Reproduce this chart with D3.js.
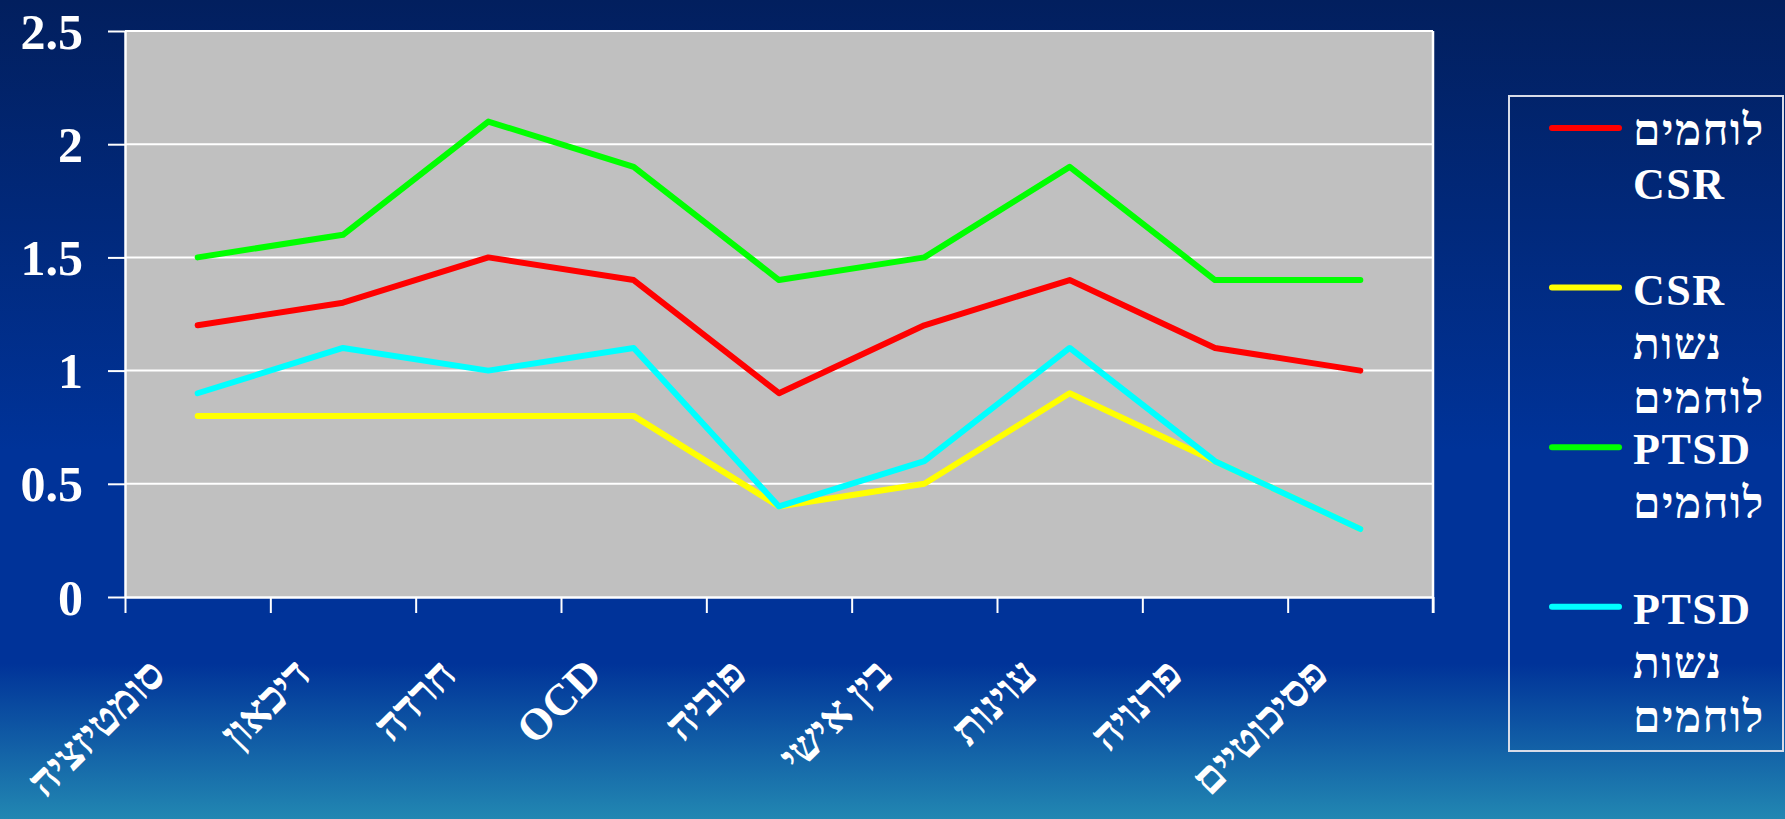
<!DOCTYPE html>
<html>
<head>
<meta charset="utf-8">
<script src="https://cdn.jsdelivr.net/npm/d3@7"></script>
<style>
  html, body { margin: 0; padding: 0; }
  body { width: 1785px; height: 819px; overflow: hidden; }
  svg { display: block; }
  text { font-family: "Liberation Serif", "Times New Roman", serif; font-weight: bold; fill: #ffffff; }
</style>
</head>
<body>
<svg id="chart" width="1785" height="819"></svg>
<script>
// SCL-90 symptom dimensions
const categories = ["סומטיזציה", "דיכאון", "חרדה", "OCD", "פוביה", "בין אישי", "עוינות", "פרנויה", "פסיכוטיים"];

// Mean scores per group
const csrFighters  = [1.2, 1.3, 1.5, 1.4, 0.9, 1.2, 1.4, 1.1, 1.0];
const csrWives     = [0.8, 0.8, 0.8, 0.8, 0.4, 0.5, 0.9, 0.6, 0.3];
const ptsdFighters = [1.5, 1.6, 2.1, 1.9, 1.4, 1.5, 1.9, 1.4, 1.4];
const ptsdWives    = [0.9, 1.1, 1.0, 1.1, 0.4, 0.6, 1.1, 0.6, 0.3];

const seriesColors = ["#ff0000", "#ffff00", "#00ff00", "#00ffff"];
const legendLabels = [
  ["לוחמים", "CSR"],
  ["CSR", "נשות", "לוחמים"],
  ["PTSD", "לוחמים"],
  ["PTSD", "נשות", "לוחמים"]
];
const yTicks = [0, 0.5, 1, 1.5, 2, 2.5];
const yTickLabels = ["0", "0.5", "1", "1.5", "2", "2.5"];

const series = [csrFighters, csrWives, ptsdFighters, ptsdWives].map((values, i) => ({
  values, color: seriesColors[i], label: legendLabels[i]
}));

const svg = d3.select("#chart");

// slide background gradient
const defs = svg.append("defs");
const grad = defs.append("linearGradient").attr("id", "bg").attr("x1", 0).attr("y1", 0).attr("x2", 0).attr("y2", 1);
grad.append("stop").attr("offset", "0%").attr("stop-color", "#021f5e");
grad.append("stop").attr("offset", "55%").attr("stop-color", "#003399");
grad.append("stop").attr("offset", "81%").attr("stop-color", "#003399");
grad.append("stop").attr("offset", "100%").attr("stop-color", "#2287b2");
svg.append("rect").attr("width", 1785).attr("height", 819).attr("fill", "url(#bg)");

const plot = { left: 125, right: 1433, top: 31, bottom: 597 };

const x = d3.scaleBand().domain(categories).range([plot.left, plot.right]);
const xBounds = d3.scaleLinear().domain([0, categories.length]).range([plot.left, plot.right]);
const y = d3.scaleLinear().domain([0, 2.5]).range([plot.bottom, plot.top]);

// plot area
svg.append("rect")
  .attr("x", plot.left).attr("y", plot.top)
  .attr("width", plot.right - plot.left).attr("height", plot.bottom - plot.top)
  .attr("fill", "#c0c0c0");

// horizontal gridlines
svg.append("g").selectAll("line").data(yTicks.filter(d => d > 0)).join("line")
  .attr("x1", plot.left).attr("x2", plot.right)
  .attr("y1", d => y(d)).attr("y2", d => y(d))
  .attr("stroke", "#ffffff").attr("stroke-width", 2);

// right border of the plot area
svg.append("line")
  .attr("x1", plot.right).attr("x2", plot.right)
  .attr("y1", plot.top).attr("y2", plot.bottom + 16)
  .attr("stroke", "#ffffff").attr("stroke-width", 2.5);

// y axis
const yAxis = svg.append("g").attr("transform", `translate(${plot.left},0)`)
  .call(d3.axisLeft(y).tickValues(yTicks).tickSize(17).tickSizeOuter(0)
    .tickFormat((d, i) => yTickLabels[i]));
yAxis.select(".domain").attr("stroke", "#ffffff").attr("stroke-width", 2.5);
yAxis.selectAll(".tick line").attr("stroke", "#ffffff").attr("stroke-width", 2);
yAxis.selectAll(".tick text")
  .attr("x", -42).attr("dy", "0.34em")
  .style("font-size", "50px").style("font-family", "'Liberation Serif', serif")
  .style("font-weight", "bold").attr("fill", "#ffffff");

// x axis with ticks at category boundaries
const xAxis = svg.append("g").attr("transform", `translate(0,${plot.bottom})`)
  .call(d3.axisBottom(xBounds).ticks(categories.length).tickSize(16).tickSizeOuter(0).tickFormat(""));
xAxis.select(".domain").attr("stroke", "#ffffff").attr("stroke-width", 2.5);
xAxis.selectAll(".tick line").attr("stroke", "#ffffff").attr("stroke-width", 2);

// rotated category labels
svg.append("g").selectAll("text").data(categories).join("text")
  .attr("transform", d => `translate(${x(d) + x.bandwidth() / 2 - 30},${plot.bottom + 80}) rotate(-45)`)
  .attr("text-anchor", "end")
  .style("font-size", "44px")
  .text(d => d);

// series lines
const line = d3.line()
  .x((d, i) => x(categories[i]) + x.bandwidth() / 2)
  .y(d => y(d));

svg.append("g").selectAll("path").data(series).join("path")
  .attr("d", s => line(s.values))
  .attr("fill", "none")
  .attr("stroke", s => s.color)
  .attr("stroke-width", 6)
  .attr("stroke-linecap", "round")
  .attr("stroke-linejoin", "round");

// legend
const legend = { left: 1509, top: 96, right: 1783, bottom: 751 };
svg.append("rect")
  .attr("x", legend.left).attr("y", legend.top)
  .attr("width", legend.right - legend.left).attr("height", legend.bottom - legend.top)
  .attr("fill", "none").attr("stroke", "#d8dce8").attr("stroke-width", 2);

const entryStep = 159.6, lineGap = 54;
const entries = svg.append("g").selectAll("g").data(series).join("g")
  .attr("transform", (d, i) => `translate(0,${128 + i * entryStep})`);
entries.append("line")
  .attr("x1", 1552).attr("x2", 1619).attr("y1", 0).attr("y2", 0)
  .attr("stroke", d => d.color).attr("stroke-width", 6).attr("stroke-linecap", "round");
entries.selectAll("text").data(d => d.label).join("text")
  .attr("x", 1633).attr("y", (d, i) => 17 + i * lineGap)
  .attr("text-anchor", "start")
  .style("font-size", "44px")
  .style("letter-spacing", "1.5px")
  .text(d => d);
</script>
</body>
</html>
